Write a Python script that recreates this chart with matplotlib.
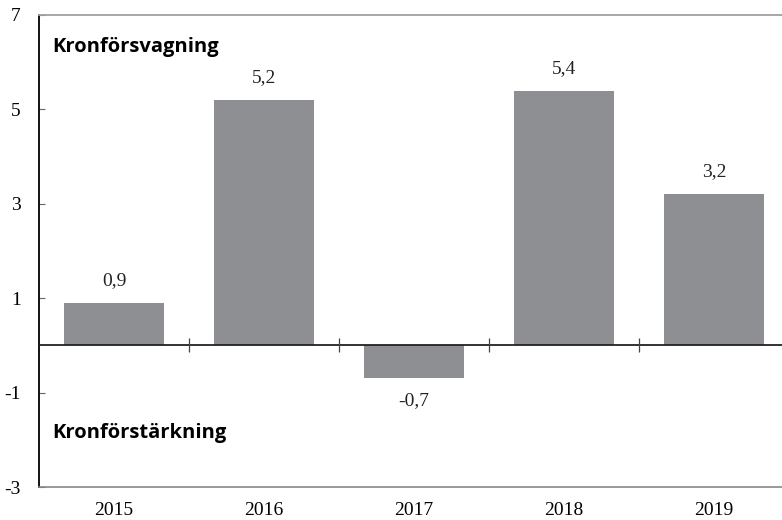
import numpy as np
import matplotlib
matplotlib.use('Agg')
import matplotlib.pyplot as plt

years = ['2015', '2016', '2017', '2018', '2019']
values = [0.9, 5.2, -0.7, 5.4, 3.2]
value_labels = ['0,9', '5,2', '-0,7', '5,4', '3,2']
yticks = [-3, -1, 1, 3, 5, 7]

num_font = dict(family='Liberation Serif')

fig = plt.figure(figsize=(7.82, 5.2), dpi=100)
ax = fig.add_axes([39/782, 33/520, 750/782, 472/520])

x = np.arange(len(years))
ax.bar(x, values, width=0.667, color='#8e8f93', zorder=2)

ax.set_xlim(-0.5, len(years) - 0.5)
ax.set_ylim(-3, 7)

# zero line with tick marks between categories
ax.axhline(0, color='#222222', lw=1.3, zorder=3)
ax.plot(x[:-1] + 0.5, np.zeros(len(x) - 1), ls='none', marker='|',
        ms=10, mew=0.9, color='#444444', zorder=3, clip_on=False)

for xi, v, s in zip(x, values, value_labels):
    if v >= 0:
        ax.annotate(s, (xi, v), xytext=(0, 10), textcoords='offset points',
                    ha='center', va='bottom', fontsize=14, color='#222222',
                    **num_font)
    else:
        ax.annotate(s, (xi, v), xytext=(0, -10), textcoords='offset points',
                    ha='center', va='top', fontsize=14, color='#222222',
                    **num_font)

ax.text(-0.41, 6.32, 'Kronförsvagning', fontsize=14.5, fontweight='bold',
        family='Open Sans', va='center', ha='left', color='black')
ax.text(-0.41, -1.85, 'Kronförstärkning', fontsize=14.5, fontweight='bold',
        family='Open Sans', va='center', ha='left', color='black')

ax.set_xticks(x)
ax.set_xticklabels(years, fontsize=14, **num_font)
ax.tick_params(axis='x', length=0, pad=11)
ax.set_yticks(yticks)
ax.set_yticklabels([str(t) for t in yticks], fontsize=14, **num_font)
ax.tick_params(axis='y', direction='in', length=4, width=0.8, pad=13,
               color='#666666')

ax.spines['left'].set_color('black')
ax.spines['left'].set_linewidth(1.3)
ax.spines['top'].set_color('#a0a0a0')
ax.spines['top'].set_linewidth(1.3)
ax.spines['bottom'].set_color('#888888')
ax.spines['bottom'].set_linewidth(1.2)
ax.spines['right'].set_visible(False)

fig.savefig('out.png', dpi=100)
